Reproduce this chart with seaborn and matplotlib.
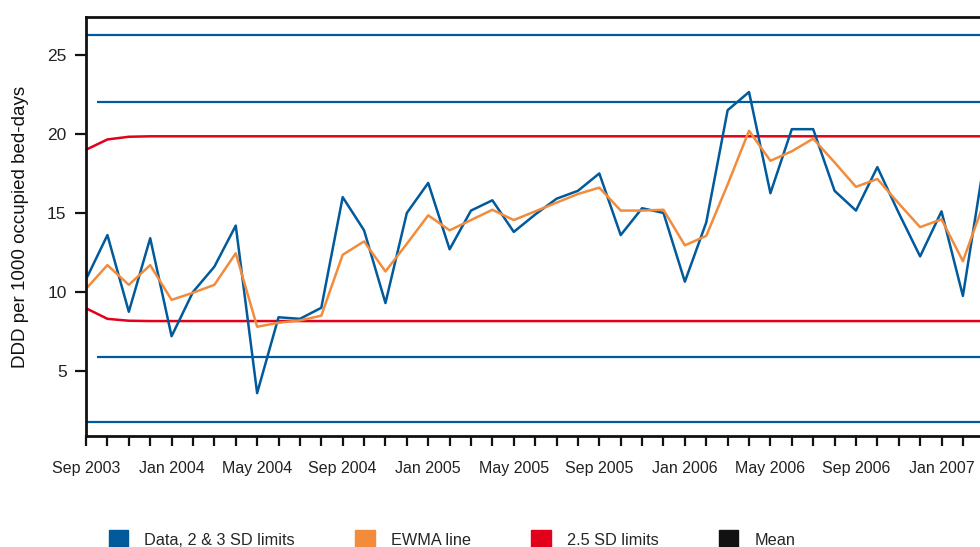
import matplotlib
matplotlib.use("Agg")
import matplotlib.pyplot as plt
from matplotlib.patches import Patch
import seaborn as sns
import pandas as pd
import numpy as np

# === DONNEES ===
ddd = [10.8, 13.6, 8.75, 13.4, 7.2, 10.0, 11.6, 14.2, 3.6, 8.4, 8.3, 9.0,
       16.0, 13.9, 9.3, 15.0, 16.9, 12.7, 15.15, 15.8, 13.8, 14.9, 15.9, 16.4,
       17.5, 13.6, 15.3, 15.0, 10.65, 14.4, 21.5, 22.65, 16.25, 20.3, 20.3, 16.4,
       15.15, 17.9, 15.0, 12.25, 15.1, 9.75, 18.3]
ewma = [10.2, 11.7, 10.45, 11.7, 9.5, 9.95, 10.45, 12.45, 7.8, 8.05, 8.2, 8.5,
        12.35, 13.2, 11.3, 13.05, 14.85, 13.9, 14.55, 15.2, 14.55, 15.1, 15.65, 16.2,
        16.6, 15.15, 15.15, 15.2, 12.95, 13.55, 16.8, 20.2, 18.3, 18.9, 19.7, 18.2,
        16.65, 17.15, 15.6, 14.1, 14.6, 11.95, 15.7]
ucl_25 = [19.0, 19.65, 19.82] + [19.85] * 40
lcl_25 = [8.97, 8.3, 8.18] + [8.16] * 40
sd_limits_3 = [26.27, 1.77]
sd_limits_2 = [22.03, 5.89]
tick_labels = ["Sep 2003", "Jan 2004", "May 2004", "Sep 2004", "Jan 2005", "May 2005",
               "Sep 2005", "Jan 2006", "May 2006", "Sep 2006", "Jan 2007"]

months = np.arange(len(ddd))
df = pd.DataFrame({"mois": months, "ddd": ddd, "ewma": ewma, "ucl": ucl_25, "lcl": lcl_25})

BLEU = "#005a9c"
ORANGE = "#f28c3c"
ROUGE = "#e2001a"
NOIR = "#111111"

sns.set_theme(style="ticks")
plt.rcParams["font.family"] = ["Liberation Sans", "DejaVu Sans"]

fig = plt.figure(figsize=(9.8, 5.47), dpi=100)
ax = fig.add_axes([0.0878, 0.203, 0.9122, 0.766])

for y in sd_limits_3:
    ax.axhline(y, color=BLEU, lw=1.6)
for y in sd_limits_2:
    ax.hlines(y, 0.5, 50, color=BLEU, lw=1.6)

sns.lineplot(data=df, x="mois", y="ucl", color=ROUGE, lw=1.8, ax=ax)
sns.lineplot(data=df, x="mois", y="lcl", color=ROUGE, lw=1.8, ax=ax)
sns.lineplot(data=df, x="mois", y="ddd", color=BLEU, lw=1.8, ax=ax)
sns.lineplot(data=df, x="mois", y="ewma", color=ORANGE, lw=1.8, ax=ax)

ax.set_xlim(0, 41.8)
ax.set_ylim(0.89, 27.4)
ax.set_xticks(np.arange(0, 41, 4))
ax.set_xticklabels(tick_labels)
ax.set_xticks(months[months <= 41], minor=True)
ax.set_yticks([5, 10, 15, 20, 25])
ax.tick_params(axis="x", which="both", length=7, width=1.6, color="#111111",
               labelsize=11.5, labelcolor="#222222", pad=11)
ax.tick_params(axis="y", length=8, width=1.6, color="#111111",
               labelsize=12.5, labelcolor="#222222", pad=6)
ax.set_xlabel("")
ax.set_ylabel("DDD per 1000 occupied bed-days", fontsize=13.5, color="#111111", labelpad=13)

for side in ["left", "bottom", "top"]:
    ax.spines[side].set_linewidth(2)
    ax.spines[side].set_color("#111111")
ax.spines["right"].set_visible(False)

handles = [Patch(color=BLEU, label="Data, 2 & 3 SD limits"),
           Patch(color=ORANGE, label="EWMA line"),
           Patch(color=ROUGE, label="2.5 SD limits"),
           Patch(color=NOIR, label="Mean")]
fig.legend(handles=handles, loc="lower left", bbox_to_anchor=(0.096, -0.03), ncol=4,
           frameon=False, fontsize=11.7, handlelength=1.2, handleheight=1.4,
           columnspacing=3.7, handletextpad=1.0)

fig.savefig("out.png", dpi=100)
